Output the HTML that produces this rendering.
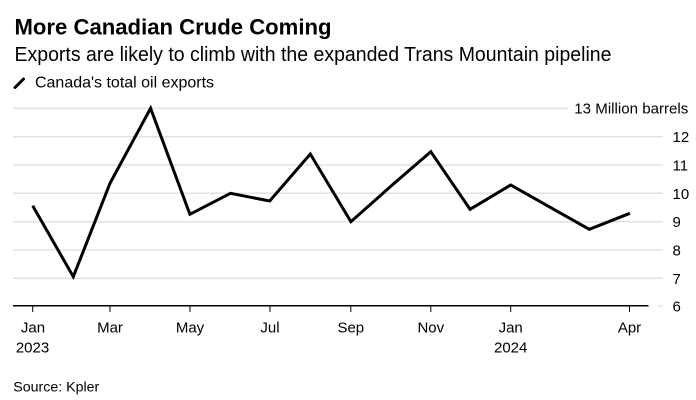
<!DOCTYPE html>
<html>
<head>
<meta charset="utf-8">
<style>
html,body{margin:0;padding:0;background:#fff;}
svg{display:block;}
text{font-family:"Liberation Sans",Arial,sans-serif;fill:#000;}
</style>
</head>
<body>
<svg width="696" height="400" viewBox="0 0 696 400" xmlns="http://www.w3.org/2000/svg">
  <rect width="696" height="400" fill="#fff"/>
  <text x="14.5" y="34.3" font-size="22" font-weight="bold" textLength="317" lengthAdjust="spacingAndGlyphs">More Canadian Crude Coming</text>
  <text x="14.5" y="61" font-size="20" textLength="597" lengthAdjust="spacingAndGlyphs">Exports are likely to climb with the expanded Trans Mountain pipeline</text>
  <line x1="15" y1="87.5" x2="23.5" y2="79" stroke="#000" stroke-width="3" stroke-linecap="round"/>
  <text x="35" y="87.7" font-size="16" textLength="179" lengthAdjust="spacingAndGlyphs">Canada's total oil exports</text>

  <!-- gridlines -->
  <g stroke="#e2e2e2" stroke-width="1.5">
    <line x1="13" y1="108.3" x2="568" y2="108.3"/>
    <line x1="13" y1="136.7" x2="663" y2="136.7"/>
    <line x1="13" y1="165" x2="663" y2="165"/>
    <line x1="13" y1="193.3" x2="663" y2="193.3"/>
    <line x1="13" y1="221.7" x2="663" y2="221.7"/>
    <line x1="13" y1="250" x2="663" y2="250"/>
    <line x1="13" y1="278.3" x2="663" y2="278.3"/>
    <line x1="658" y1="306" x2="663" y2="306"/>
  </g>
  <!-- baseline -->
  <line x1="13" y1="305.8" x2="648.5" y2="305.8" stroke="#000" stroke-width="1.5"/>
  <g stroke="#000" stroke-width="1">
    <line x1="32.7" y1="306" x2="32.7" y2="312"/>
    <line x1="110" y1="306" x2="110" y2="312"/>
    <line x1="190" y1="306" x2="190" y2="312"/>
    <line x1="270" y1="306" x2="270" y2="312"/>
    <line x1="350.8" y1="306" x2="350.8" y2="312"/>
    <line x1="430.8" y1="306" x2="430.8" y2="312"/>
    <line x1="510.7" y1="306" x2="510.7" y2="312"/>
    <line x1="629.5" y1="306" x2="629.5" y2="312"/>
  </g>

  <!-- y labels -->
  <g font-size="15">
    <text x="574.3" y="113.3" textLength="114" lengthAdjust="spacingAndGlyphs">13 Million barrels</text>
    <text x="672.5" y="142.2">12</text>
    <text x="672.5" y="170.5">11</text>
    <text x="672.5" y="198.8">10</text>
    <text x="672.5" y="227.2">9</text>
    <text x="672.5" y="255.5">8</text>
    <text x="672.5" y="283.8">7</text>
    <text x="672.5" y="311.5">6</text>
  </g>

  <!-- x labels -->
  <g font-size="15" text-anchor="middle">
    <text x="33" y="332.7">Jan</text>
    <text x="110" y="332.7">Mar</text>
    <text x="190" y="332.7">May</text>
    <text x="270" y="332.7">Jul</text>
    <text x="350.8" y="332.7">Sep</text>
    <text x="430.8" y="332.7">Nov</text>
    <text x="510.7" y="332.7">Jan</text>
    <text x="629.5" y="332.7">Apr</text>
    <text x="32.5" y="352.7">2023</text>
    <text x="510.7" y="352.7">2024</text>
  </g>

  <!-- series -->
  <polyline fill="none" stroke="#000" stroke-width="3" stroke-linejoin="miter" points="
    32.7,205.7
    73.3,276.7
    110,183.3
    150.6,108.3
    189.9,214.3
    230.5,193.3
    269.7,201
    310.3,154
    350.9,221.7
    390.2,186.8
    430.8,151.7
    470.1,209.3
    510.7,185
    551.3,207.9
    589.3,229.3
    629.9,213.3"/>

  <text x="13.3" y="391.7" font-size="14" textLength="86" lengthAdjust="spacingAndGlyphs">Source: Kpler</text>
</svg>
</body>
</html>
